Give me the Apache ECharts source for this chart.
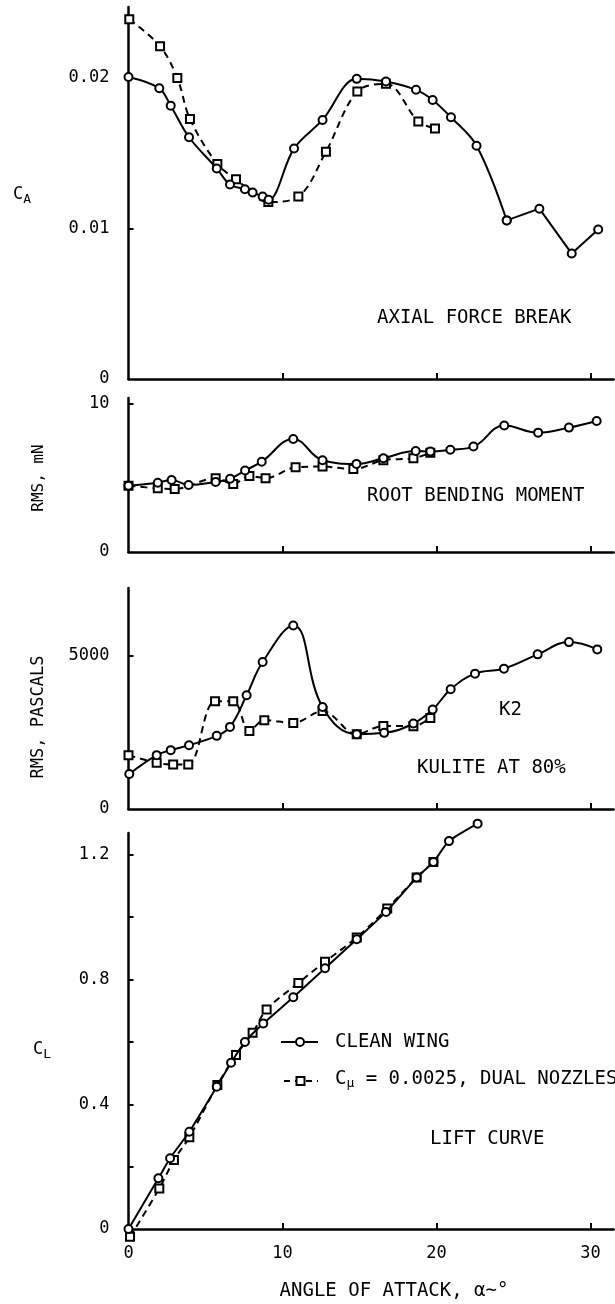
<!DOCTYPE html>
<html><head><meta charset="utf-8">
<script src="https://cdn.jsdelivr.net/npm/echarts@6/dist/echarts.min.js"></script>
<style>html,body{margin:0;padding:0;background:#fff}#c{width:615px;height:1304px}</style>
</head><body><div id="c"></div>
<script>
// ---- data (angle of attack in degrees, value) ----
const caClean = [[0,0.02005],[2.0,0.0193],[2.74,0.01815],[3.93,0.01605],[5.73,0.01398],[6.59,0.01291],[7.56,0.0126],[8.06,0.01238],[8.71,0.01211],[9.1,0.0119],[10.75,0.01531],[12.6,0.0172],[14.82,0.01993],[16.72,0.01975],[18.67,0.0192],[19.75,0.01853],[20.94,0.01738],[22.6,0.01549],[24.56,0.01053],[26.68,0.01131],[28.78,0.00833],[30.5,0.00993]];
const caDual = [[0.05,0.02389],[2.05,0.02209],[3.17,0.01998],[3.99,0.01727],[5.77,0.01427],[6.98,0.01327],[9.08,0.01175],[11.03,0.01211],[12.82,0.01509],[14.86,0.01909],[16.72,0.0196],[18.82,0.01709],[19.9,0.01664]];
const rbmClean = [[0,4.48],[1.9,4.68],[2.8,4.86],[3.9,4.53],[5.66,4.73],[6.6,4.95],[7.57,5.5],[8.65,6.1],[10.7,7.63],[12.6,6.2],[14.8,5.95],[16.55,6.33],[18.65,6.82],[19.6,6.78],[20.9,6.9],[22.4,7.12],[24.4,8.54],[26.6,8.06],[28.6,8.4],[30.4,8.85]];
const rbmDual = [[0,4.48],[1.9,4.3],[3.0,4.26],[5.66,4.98],[6.8,4.6],[7.85,5.14],[8.9,4.98],[10.85,5.72],[12.6,5.77],[14.6,5.6],[16.55,6.2],[18.5,6.33],[19.6,6.7]];
const kuliteClean = [[0.05,1141],[1.83,1760],[2.74,1923],[3.93,2086],[5.73,2390],[6.59,2683],[7.67,3716],[8.71,4802],[10.7,5998],[12.6,3335],[14.82,2445],[16.6,2488],[18.5,2794],[19.75,3250],[20.92,3912],[22.5,4423],[24.38,4587],[26.57,5053],[28.6,5454],[30.44,5216]];
const kuliteDual = [[0,1760],[1.83,1510],[2.9,1456],[3.88,1456],[5.62,3521],[6.8,3521],[7.85,2553],[8.82,2901],[10.7,2814],[12.6,3200],[14.82,2445],[16.55,2716],[18.5,2706],[19.6,2976]];
const clClean = [[0,0],[1.94,0.1625],[2.7,0.227],[3.95,0.312],[5.73,0.456],[6.66,0.533],[7.56,0.600],[8.75,0.659],[10.7,0.743],[12.76,0.836],[14.82,0.929],[16.72,1.017],[18.71,1.127],[19.8,1.177],[20.81,1.244],[22.67,1.300]];
const clDual = [[0.1,-0.025],[2.0,0.130],[2.95,0.221],[3.95,0.294],[5.77,0.4615],[6.98,0.5577],[8.06,0.629],[8.97,0.704],[11.03,0.789],[12.76,0.857],[14.82,0.935],[16.8,1.028],[18.71,1.127],[19.8,1.177]];

// ---- tick values and labels ----
const xTickValues = [10, 20, 30];
const xLabelValues = [0, 10, 20, 30];
const xLabelTexts = ['0', '10', '20', '30'];
const caTickValues = [0.01, 0.02];
const caLabelValues = [0, 0.01, 0.02];
const caLabelTexts = ['0', '0.01', '0.02'];
const rbmTickValues = [10];
const rbmLabelValues = [0, 10];
const rbmLabelTexts = ['0', '10'];
const kulTickValues = [5000];
const kulLabelValues = [0, 5000];
const kulLabelTexts = ['0', '5000'];
const clTickValues = [0.2, 0.4, 0.6, 0.8, 1.0, 1.2];
const clLabelValues = [0, 0.4, 0.8, 1.2];
const clLabelTexts = ['0', '0.4', '0.8', '1.2'];
const legendNames = ['CLEAN WING', 'C_μ = 0.0025, DUAL NOZZLES'];

const MONO = '"DejaVu Sans Mono", monospace';
const chart = echarts.init(document.getElementById('c'), null, {renderer: 'canvas'});

function fmt(values, texts) {
  return function (v) {
    const i = values.findIndex(t => Math.abs(t - v) < 1e-9);
    return i >= 0 ? texts[i] : '';
  };
}

const grids = [
  {left: 128.5, width: 485.1, top: 7, height: 372},
  {left: 128.5, width: 485.1, top: 398, height: 154},
  {left: 128.5, width: 485.1, top: 588, height: 221},
  {left: 128.5, width: 485.1, top: 833, height: 396}
];
const yDefs = [
  {max: 0.0247, ticks: caTickValues, lv: caLabelValues, lt: caLabelTexts},
  {max: 10.4, ticks: rbmTickValues, lv: rbmLabelValues, lt: rbmLabelTexts},
  {max: 7222, ticks: kulTickValues, lv: kulLabelValues, lt: kulLabelTexts},
  {max: 1.27, ticks: clTickValues, lv: clLabelValues, lt: clLabelTexts}
];

const xAxes = grids.map((g, i) => ({
  type: 'value', gridIndex: i, min: 0, max: 31.5,
  axisLine: {show: true, onZero: false, lineStyle: {color: '#000', width: 2.5}},
  axisTick: {show: true, inside: true, length: 6, customValues: xTickValues, lineStyle: {color: '#000', width: 2}},
  axisLabel: {show: i === 3, customValues: xLabelValues, formatter: fmt(xLabelValues, xLabelTexts),
    color: '#000', fontFamily: MONO, fontSize: 17, margin: 16},
  splitLine: {show: false}
}));
const yAxes = yDefs.map((d, i) => ({
  type: 'value', gridIndex: i, min: 0, max: d.max,
  axisLine: {show: true, onZero: false, lineStyle: {color: '#000', width: 2.5}},
  axisTick: {show: true, inside: true, length: 5, customValues: d.ticks, lineStyle: {color: '#000', width: 2}},
  axisLabel: {show: true, customValues: d.lv, formatter: fmt(d.lv, d.lt),
    color: '#000', fontFamily: MONO, fontSize: 17, margin: 19},
  splitLine: {show: false}
}));

function solid(i, data, sm) {
  return {type: 'line', name: legendNames[0], xAxisIndex: i, yAxisIndex: i, data: data,
    smooth: sm === undefined ? 0.35 : sm, symbol: 'circle', symbolSize: 8, clip: false, z: 4,
    lineStyle: {color: '#000', width: 2},
    itemStyle: {color: '#fff', borderColor: '#000', borderWidth: 2}};
}
function dashed(i, data) {
  return {type: 'line', name: legendNames[1], xAxisIndex: i, yAxisIndex: i, data: data,
    smooth: 0.35, symbol: 'rect', symbolSize: 8, clip: false, z: 3,
    lineStyle: {color: '#000', width: 2, type: [7, 5]},
    itemStyle: {color: '#fff', borderColor: '#000', borderWidth: 2}};
}

function txt(x, y, text, size, extra) {
  return Object.assign({type: 'text', x: x, y: y, z: 10,
    style: Object.assign({text: text, fontFamily: MONO, fontSize: size, fill: '#000',
      align: 'left', verticalAlign: 'middle'}, extra || {})});
}

const subRich = {sub: {fontFamily: MONO, fontSize: 13, verticalAlign: 'bottom', padding: [10, 0, 0, 0]}};

const option = {
  animation: false,
  backgroundColor: '#fff',
  grid: grids,
  xAxis: xAxes,
  yAxis: yAxes,
  series: [
    solid(0, caClean.slice(0, 19), 0.35), solid(0, caClean.slice(18), false), dashed(0, caDual),
    solid(1, rbmClean, 0.42), dashed(1, rbmDual),
    solid(2, kuliteClean, 0.42), dashed(2, kuliteDual),
    solid(3, clClean, 0.2), dashed(3, clDual)
  ],
  graphic: [
    txt(13, 195, 'C{sub|A}', 17, {rich: subRich}),
    txt(377, 318, 'AXIAL FORCE BREAK', 19),
    Object.assign(txt(39, 478, 'RMS, mN', 16, {align: 'center'}), {rotation: Math.PI / 2}),
    txt(367, 496, 'ROOT BENDING MOMENT', 19),
    Object.assign(txt(39, 717, 'RMS, PASCALS', 17, {align: 'center'}), {rotation: Math.PI / 2}),
    txt(499, 710, 'K2', 19),
    txt(417, 768, 'KULITE AT 80%', 19),
    txt(33, 1050, 'C{sub|L}', 17, {rich: subRich}),
    // legend samples
    {type: 'line', shape: {x1: 281, y1: 1042, x2: 318, y2: 1042}, style: {stroke: '#000', lineWidth: 2}, z: 10},
    {type: 'circle', shape: {cx: 300, cy: 1042, r: 4}, style: {fill: '#fff', stroke: '#000', lineWidth: 2}, z: 11},
    {type: 'line', shape: {x1: 284, y1: 1081, x2: 318, y2: 1081}, style: {stroke: '#000', lineWidth: 2, lineDash: [6, 5]}, z: 10},
    {type: 'rect', shape: {x: 296.5, y: 1077, width: 8, height: 8}, style: {fill: '#fff', stroke: '#000', lineWidth: 2}, z: 11},
    txt(335, 1042, legendNames[0], 19),
    txt(335, 1079, 'C{sub|μ} = 0.0025, DUAL NOZZLES', 19, {rich: subRich}),
    txt(430, 1139, 'LIFT CURVE', 19),
    txt(394, 1291, 'ANGLE OF ATTACK, α~°', 19, {align: 'center'})
  ]
};
chart.setOption(option);
</script>
</body></html>
